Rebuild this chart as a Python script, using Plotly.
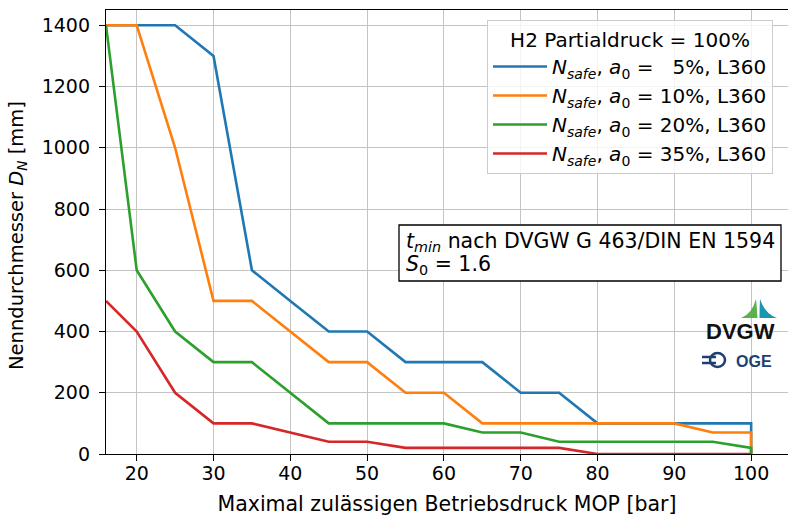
import plotly.graph_objects as go

# ---- data ----
mop = [16, 20, 25, 30, 35, 40, 45, 50, 55, 60, 65, 70, 75, 80, 85, 90, 95, 100, 100]
dn_a5 = [1400, 1400, 1400, 1300, 600, 500, 400, 400, 300, 300, 300, 200, 200, 100, 100, 100, 100, 100, 0]
dn_a10 = [1400, 1400, 1000, 500, 500, 400, 300, 300, 200, 200, 100, 100, 100, 100, 100, 100, 70, 70, 0]
dn_a20 = [1400, 600, 400, 300, 300, 200, 100, 100, 100, 100, 70, 70, 40, 40, 40, 40, 40, 20, 0]
dn_a35 = [500, 400, 200, 100, 100, 70, 40, 40, 20, 20, 20, 20, 20, 0, 0, 0, 0, 0, 0]

series_names = [
    "<i>N</i><sub><i>safe</i></sub>, <i>a</i><sub>0</sub> = \u20075%, L360",
    "<i>N</i><sub><i>safe</i></sub>, <i>a</i><sub>0</sub> = 10%, L360",
    "<i>N</i><sub><i>safe</i></sub>, <i>a</i><sub>0</sub> = 20%, L360",
    "<i>N</i><sub><i>safe</i></sub>, <i>a</i><sub>0</sub> = 35%, L360",
]
series_values = [dn_a5, dn_a10, dn_a20, dn_a35]
colors = ["#1f77b4", "#ff7f0e", "#2ca02c", "#d62728"]

x_ticks = [20, 30, 40, 50, 60, 70, 80, 90, 100]
y_ticks = [0, 200, 400, 600, 800, 1000, 1200, 1400]

legend_title = "H2 Partialdruck = 100%"
x_title = "Maximal zulässigen Betriebsdruck MOP [bar]"
y_title = "Nenndurchmesser <i>D</i><sub><i>N</i></sub> [mm]"
note_line1 = "<i>t</i><sub><i>min</i></sub> nach DVGW G 463/DIN EN 1594"
note_line2 = "<i>S</i><sub>0</sub> = 1.6"

W, H = 788, 516
ML, MR, MT, MB = 106, 0, 10, 62
PW, PH = W - ML - MR, H - MT - MB


def px(xp):
    return (xp - ML) / PW


def py(yp):
    return (H - MB - yp) / PH


FONT = "DejaVu Sans"

fig = go.Figure()
for name, vals, col in zip(series_names, series_values, colors):
    fig.add_trace(go.Scatter(x=mop, y=vals, mode="lines", name=name,
                             line=dict(color=col, width=2.6)))

axis_common = dict(
    showline=True, linecolor="black", linewidth=1.3,
    ticks="outside", ticklen=6, tickwidth=1.3, tickcolor="black",
    showgrid=True, gridcolor="#c4c4c4", gridwidth=1.4,
    zeroline=False, tickfont=dict(family=FONT, size=19, color="black"),
)

fig.update_xaxes(range=[16, 104.8], tickvals=x_ticks, mirror=True, ticklabelstandoff=-4,
                 title=dict(text=x_title, font=dict(family=FONT, size=20.5, color="black"), standoff=14),
                 **axis_common)
fig.update_yaxes(range=[0, 1450], tickvals=y_ticks, mirror=False, ticklabelstandoff=5,
                 **axis_common)

fig.update_layout(
    width=W, height=H,
    margin=dict(l=ML, r=MR, t=MT, b=MB),
    plot_bgcolor="white", paper_bgcolor="white",
    font=dict(family=FONT, size=19, color="black"),
    legend=dict(
        x=px(487), y=py(20), xanchor="left", yanchor="top",
        bgcolor="rgba(255,255,255,0.8)", bordercolor="#cccccc", borderwidth=1,
        font=dict(family=FONT, size=20, color="black"),
        title=dict(text=legend_title, side="top center", font=dict(family=FONT, size=20)),
        itemwidth=54,
    ),
)

# y-axis title placed as rotated text
fig.add_annotation(xref="paper", yref="paper", x=px(17), y=py(236), xanchor="center", yanchor="middle",
                   text=y_title, textangle=-90, showarrow=False,
                   font=dict(family=FONT, size=19.5, color="black"))

# note box
fig.add_shape(type="rect", xref="paper", yref="paper",
              x0=px(399), x1=px(781), y0=py(281), y1=py(225),
              line=dict(color="black", width=1.3), fillcolor="white", layer="above")
fig.add_annotation(xref="paper", yref="paper", x=px(404), y=py(242), xanchor="left", yanchor="middle",
                   text=note_line1, showarrow=False, align="left",
                   font=dict(family=FONT, size=20.5, color="black"))
fig.add_annotation(xref="paper", yref="paper", x=px(404), y=py(265), xanchor="left", yanchor="middle",
                   text=note_line2, showarrow=False, align="left",
                   font=dict(family=FONT, size=20.5, color="black"))


def P(x, y):
    return f"{px(x):.5f},{py(y):.5f}"


# logo: DVGW wings
left_path = (f"M {P(741, 318)} Q {P(752, 314)} {P(756, 299)} "
             f"Q {P(757, 309)} {P(757.5, 318)} Z")
right_path = (f"M {P(759.5, 318)} Q {P(759.5, 308)} {P(760, 299)} "
              f"Q {P(765, 314)} {P(777, 318)} Z")

fig.add_shape(type="path", xref="paper", yref="paper", path=left_path,
              fillcolor="#5db14c", line=dict(width=0), layer="above")
fig.add_shape(type="path", xref="paper", yref="paper", path=right_path,
              fillcolor="#1797b2", line=dict(width=0), layer="above")
fig.add_annotation(xref="paper", yref="paper", x=px(740), y=py(332), xanchor="center", yanchor="middle",
                   text="<b>DVGW</b>", showarrow=False,
                   font=dict(family="Liberation Sans", size=22, color="#111111"))
# OGE icon + text
fig.add_shape(type="circle", xref="paper", yref="paper",
              x0=px(710), x1=px(725), y0=py(367), y1=py(353),
              line=dict(color="#1d3f72", width=2.5), fillcolor="rgba(0,0,0,0)", layer="above")
fig.add_shape(type="line", xref="paper", yref="paper", x0=px(702), x1=px(716), y0=py(357), y1=py(357),
              line=dict(color="#1d3f72", width=2.5), layer="above")
fig.add_shape(type="line", xref="paper", yref="paper", x0=px(702), x1=px(716), y0=py(363), y1=py(363),
              line=dict(color="#1d3f72", width=2.5), layer="above")
fig.add_annotation(xref="paper", yref="paper", x=px(734), y=py(361), xanchor="left", yanchor="middle",
                   text="<b>OGE</b>", showarrow=False,
                   font=dict(family="Liberation Sans", size=16, color="#1d3f72"))

fig.write_html("out.html", config={"displayModeBar": False},
               post_script="document.body.style.margin='0';document.body.style.padding='0';")
